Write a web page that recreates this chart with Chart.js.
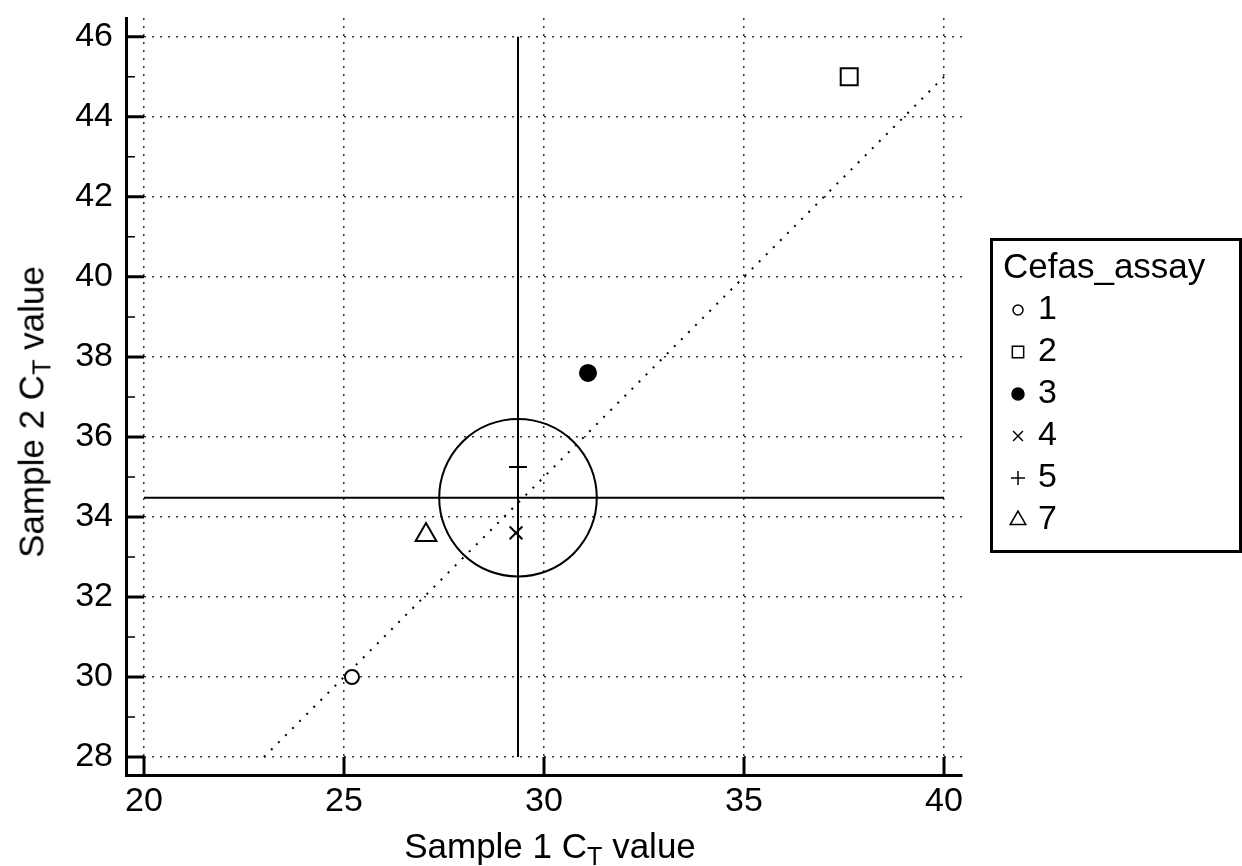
<!DOCTYPE html>
<html>
<head>
<meta charset="utf-8">
<script src="https://cdn.jsdelivr.net/npm/chart.js@4.4.1/dist/chart.umd.min.js"></script>
<style>
    body { margin: 0; background: #fff; font-family: 'Liberation Sans', Arial, sans-serif; }
    #wrap { position: relative; width: 1242px; height: 866px; overflow: hidden; }
    #plot { position: absolute; left: 0; top: 0; }
    .axis-title { position: absolute; font-size: 35px; line-height: 35px; color: #000; white-space: nowrap; }
    .axis-title sub { font-size: 0.72em; vertical-align: -0.28em; line-height: 0; }
    #xTitle { left: 550px; top: 828px; transform: translateX(-50%); }
    #yTitle { left: 31px; top: 412px; transform: translate(-50%, -50%) rotate(-90deg); }
    #legend {
        position: absolute; left: 990px; top: 238px; width: 252px; height: 315px;
        box-sizing: border-box; border: 3px solid #000; padding: 5px 0 0 10px; color: #000;
    }
    #legend .title { font-size: 35px; line-height: 40px; }
    #legend .item { font-size: 34px; line-height: 42px; height: 42px; }
    #legend canvas { vertical-align: middle; margin: 0 8px 0 3px; }
</style>
</head>
<body>
<div id="wrap">
    <canvas id="plot" width="1242" height="866"></canvas>
    <div class="axis-title" id="xTitle">Sample 1 C<sub>T</sub> value</div>
    <div class="axis-title" id="yTitle">Sample 2 C<sub>T</sub> value</div>
    <div id="legend">
        <div class="title">Cefas_assay</div>
        <div id="legendItems"></div>
    </div>
</div>
<script>
// data
const assays = ['1', '2', '3', '4', '5', '7'];
const sample1Ct = [25.2, 37.63, 31.1, 29.3, 29.35, 27.05];
const sample2Ct = [30.0, 45.0, 37.6, 33.6, 35.25, 33.55];

const xTicks = [20, 25, 30, 35, 40];
const yTicks = [28, 30, 32, 34, 36, 38, 40, 42, 44, 46];
const yMinorTicks = [29, 31, 33, 35, 37, 39, 41, 43, 45];

// reference lines
const meanX = 29.35;
const meanY = 34.48;
const circleRadius = 1.97;
const vLineY = [28, 46];
const hLineX = [20, 40];
const diagX = [23, 40];
const diagY = [28, 45];

// marker looks
const markerStyles = ['circle', 'rect', 'circle', 'crossRot', 'cross', 'triangle'];
const markerFills = ['#fff', '#fff', '#000', '#000', '#000', '#fff'];
const markerSizes = [7, 12, 8, 9, 9, 12];
const legendSizes = [5, 8, 6, 7, 7, 9];

const FONT = "'Liberation Sans', Arial, sans-serif";

const pointSets = assays.map((a, i) => ({
    label: a,
    data: [{ x: sample1Ct[i], y: sample2Ct[i] }],
    pointStyle: markerStyles[i],
    pointRadius: markerSizes[i],
    pointBackgroundColor: markerFills[i],
    pointBorderColor: '#000',
    pointBorderWidth: 2,
    order: 0
}));

const lineSet = (data, dash, width) => ({
    data,
    showLine: true,
    pointRadius: 0,
    borderColor: '#000',
    borderWidth: width,
    borderDash: dash,
    order: 1
});

const datasets = [
    ...pointSets,
    lineSet(vLineY.map(v => ({ x: meanX, y: v })), [], 2),
    lineSet(hLineX.map(v => ({ x: v, y: meanY })), [], 2),
    lineSet(diagX.map((v, i) => ({ x: v, y: diagY[i] })), [2, 8], 2)
];

// ring round the mean point, inward tick marks
const extras = {
    id: 'extras',
    afterDatasetsDraw(chart) {
        const { ctx, chartArea, scales: { x, y } } = chart;
        ctx.save();
        ctx.strokeStyle = '#000';

        const cx = x.getPixelForValue(meanX);
        const cy = y.getPixelForValue(meanY);
        const rx = Math.abs(x.getPixelForValue(meanX + circleRadius) - cx);
        const ry = Math.abs(y.getPixelForValue(meanY + circleRadius) - cy);
        ctx.lineWidth = 2;
        ctx.beginPath();
        ctx.ellipse(cx, cy, rx, ry, 0, 0, Math.PI * 2);
        ctx.stroke();

        const tickLen = 18;
        ctx.lineWidth = 3;
        ctx.beginPath();
        xTicks.forEach(v => {
            const px = x.getPixelForValue(v);
            ctx.moveTo(px, chartArea.bottom);
            ctx.lineTo(px, chartArea.bottom - tickLen);
        });
        yTicks.forEach(v => {
            const py = y.getPixelForValue(v);
            ctx.moveTo(chartArea.left, py);
            ctx.lineTo(chartArea.left + tickLen, py);
        });
        ctx.stroke();

        ctx.lineWidth = 1.5;
        ctx.beginPath();
        yMinorTicks.forEach(v => {
            const py = y.getPixelForValue(v);
            ctx.moveTo(chartArea.left, py);
            ctx.lineTo(chartArea.left + 9, py);
        });
        ctx.stroke();
        ctx.restore();
    }
};

const axisBase = {
    type: 'linear',
    border: { display: true, color: '#000', width: 3, dash: [2, 6] },
    grid: { color: '#333', lineWidth: 1.5, drawTicks: false },
    ticks: { color: '#000', font: { family: FONT, size: 34 } }
};

new Chart(document.getElementById('plot'), {
    type: 'scatter',
    data: { datasets },
    options: {
        responsive: false,
        animation: false,
        devicePixelRatio: 1,
        layout: { padding: { left: 0, top: 18, right: 280, bottom: 0 } },
        plugins: { legend: { display: false }, tooltip: { enabled: false } },
        scales: {
            x: {
                ...axisBase,
                min: 19.55,
                max: 40.45,
                ticks: { ...axisBase.ticks, padding: 6 },
                afterBuildTicks: s => { s.ticks = xTicks.map(v => ({ value: v })); },
                afterFit: s => { s.height = 91; s.paddingLeft = 0; s.paddingRight = 0; }
            },
            y: {
                ...axisBase,
                min: 27.55,
                max: 46.47,
                ticks: { ...axisBase.ticks, padding: 13 },
                afterBuildTicks: s => { s.ticks = yTicks.map(v => ({ value: v })); },
                afterFit: s => { s.width = 126; s.paddingTop = 0; s.paddingBottom = 0; }
            }
        }
    },
    plugins: [extras]
});

// legend
const legendItems = document.getElementById('legendItems');
assays.forEach((a, i) => {
    const row = document.createElement('div');
    row.className = 'item';
    const c = document.createElement('canvas');
    c.width = 24;
    c.height = 24;
    const g = c.getContext('2d');
    g.fillStyle = markerFills[i];
    g.strokeStyle = '#000';
    g.lineWidth = 1.5;
    Chart.helpers.drawPoint(g, { pointStyle: markerStyles[i], radius: legendSizes[i], borderWidth: 1.5 }, 12, 12);
    row.appendChild(c);
    row.appendChild(document.createTextNode(a));
    legendItems.appendChild(row);
});
</script>
</body>
</html>
